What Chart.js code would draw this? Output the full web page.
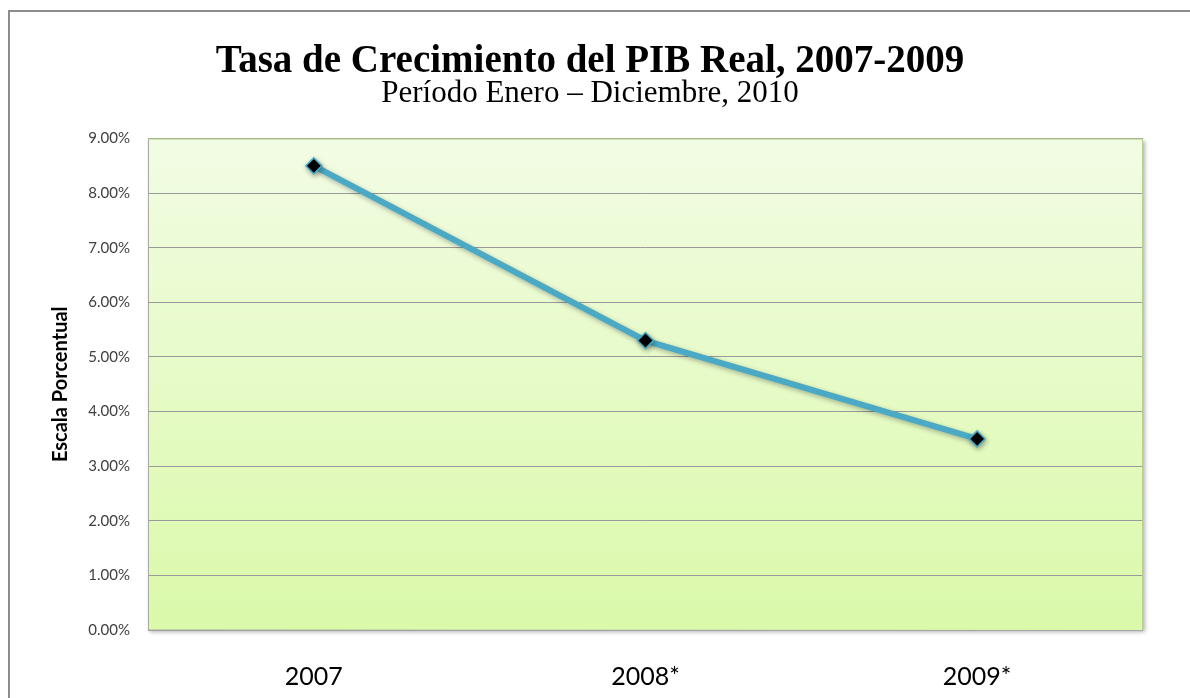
<!DOCTYPE html>
<html>
<head>
<meta charset="utf-8">
<script src="https://cdn.jsdelivr.net/npm/chart.js@4"></script>
<style>
  html, body { margin: 0; padding: 0; background: #fff; }
  #wrap { position: relative; width: 1190px; height: 698px; }
  #frame { position: absolute; left: 8px; top: 10px; width: 1200px; height: 686px;
           border: 2px solid #8c8c8c; border-right: none; }
  canvas { position: absolute; left: 0; top: 0; }
</style>
</head>
<body>
<div id="wrap">
  <div id="frame"></div>
  <canvas id="chart1" width="1190" height="698"></canvas>
</div>
<script>
// Datos
var years = ["2007", "2008*", "2009*"];
var growthRates = [8.5, 5.3, 3.5];
var yMin = 0, yMax = 9, yStep = 1;

// fondo degradado y bordes del área de trazado
var plotBackground = {
    id: "plotBackground",
    beforeDraw: function(chart) {
        var ctx = chart.ctx, a = chart.chartArea;
        ctx.save();
        ctx.shadowColor = "rgba(0,0,0,0.3)";
        ctx.shadowBlur = 4;
        ctx.shadowOffsetX = 2;
        ctx.shadowOffsetY = 2;
        var g = ctx.createLinearGradient(0, a.top, 0, a.bottom);
        g.addColorStop(0, "#f2fce4");
        g.addColorStop(1, "#daf9a9");
        ctx.fillStyle = g;
        ctx.fillRect(a.left, a.top, a.right - a.left, a.bottom - a.top);
        ctx.restore();
    },
    beforeDatasetsDraw: function(chart) {
        var ctx = chart.ctx, a = chart.chartArea;
        ctx.save();
        ctx.lineWidth = 1;
        ctx.strokeStyle = "#a9a9a9";
        ctx.beginPath();
        ctx.moveTo(a.left + 0.5, a.top);
        ctx.lineTo(a.left + 0.5, a.bottom);
        ctx.lineTo(a.right, a.bottom + 0.5);
        ctx.stroke();
        ctx.strokeStyle = "#b3d48a";
        ctx.beginPath();
        ctx.moveTo(a.left, a.top + 0.5);
        ctx.lineTo(a.right - 0.5, a.top + 0.5);
        ctx.lineTo(a.right - 0.5, a.bottom);
        ctx.stroke();
        ctx.restore();
    },
    beforeDatasetDraw: function(chart) {
        var ctx = chart.ctx;
        ctx.save();
        ctx.shadowColor = "rgba(0,0,0,0.3)";
        ctx.shadowBlur = 5;
        ctx.shadowOffsetX = 1;
        ctx.shadowOffsetY = 2;
    },
    afterDatasetDraw: function(chart) {
        chart.ctx.restore();
    }
};

document.addEventListener("DOMContentLoaded", function() {
    var ctx1 = document.getElementById("chart1").getContext("2d");
    var chart1 = new Chart(ctx1, {
        type: "line",
        data: {
            labels: years,
            datasets: [{
                label: "Tasa de Crecimiento",
                data: growthRates,
                borderColor: "#4aaac5",
                borderWidth: 6,
                pointStyle: "rectRot",
                pointRadius: 8,
                pointBackgroundColor: "#000",
                pointBorderColor: "#4aaac5",
                pointBorderWidth: 1.5,
                tension: 0
            }]
        },
        plugins: [plotBackground],
        options: {
            responsive: false,
            animation: false,
            layout: { padding: { left: 37, right: 47, top: 0, bottom: 0 } },
            plugins: {
                legend: { display: false },
                tooltip: { enabled: false },
                title: {
                    display: true,
                    text: "Tasa de Crecimiento del PIB Real, 2007-2009",
                    color: "#000",
                    font: { family: "'Liberation Serif', 'Times New Roman', serif", size: 39, weight: "bold", lineHeight: 0.9 },
                    padding: { top: 44, bottom: 0 }
                },
                subtitle: {
                    display: true,
                    text: "Período Enero – Diciembre, 2010",
                    color: "#000",
                    font: { family: "'Liberation Serif', 'Times New Roman', serif", size: 31, weight: "normal", lineHeight: 0.95 },
                    padding: { top: 0, bottom: 30 }
                }
            },
            scales: {
                y: {
                    min: yMin,
                    max: yMax,
                    afterFit: function(scale) { scale.width = 111; },
                    ticks: {
                        stepSize: yStep,
                        padding: 18,
                        color: "#404040",
                        font: { family: "Lato", size: 15 },
                        callback: function(v) { return v.toFixed(2) + "%"; }
                    },
                    grid: { color: "#9a9a9a", drawTicks: false },
                    border: { display: false },
                    title: {
                        display: true,
                        text: "Escala Porcentual",
                        color: "#000",
                        font: { family: "Lato", size: 20, weight: "bold" },
                        padding: { top: 12, bottom: 0 }
                    }
                },
                x: {
                    offset: true,
                    afterFit: function(scale) { scale.height = 68; },
                    ticks: {
                        padding: 32,
                        color: "#000",
                        font: { family: "Lato", size: 25 }
                    },
                    grid: { display: false, drawTicks: false },
                    border: { display: false }
                }
            }
        }
    });
});
</script>
</body>
</html>
